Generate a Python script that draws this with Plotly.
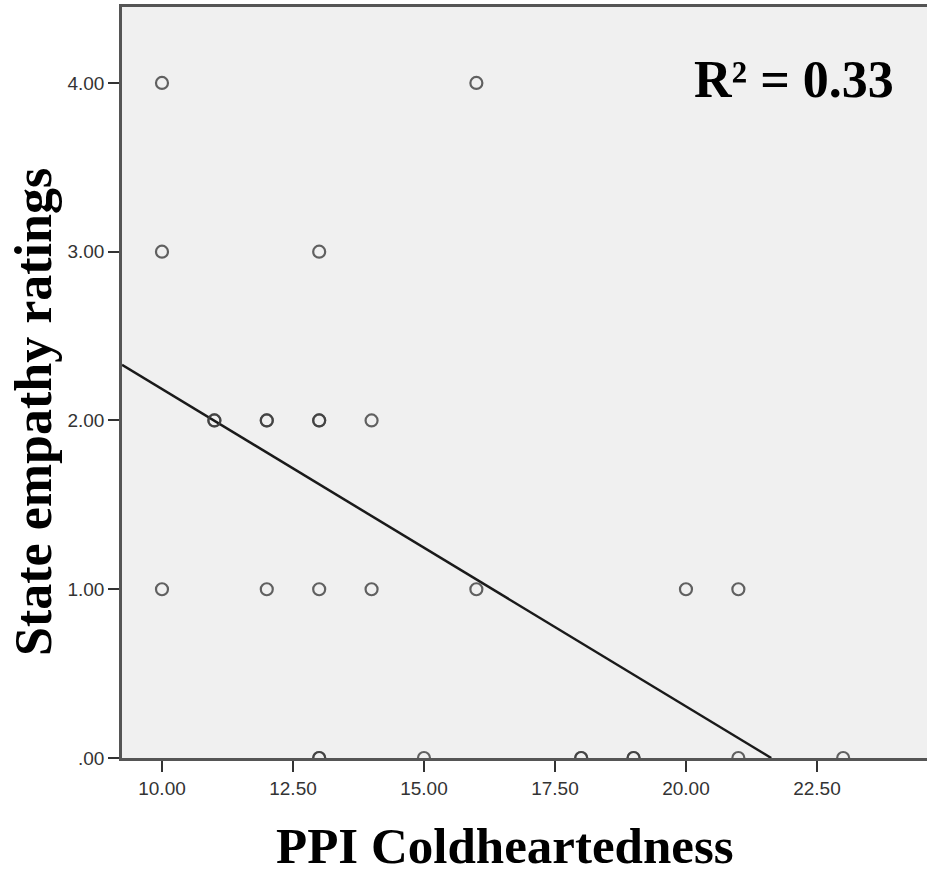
import plotly.graph_objects as go

# Data (duplicates drawn twice, they appear darker)
ppi_coldheartedness = [10, 16,
                       10, 13,
                       11, 11, 12, 12, 13, 13, 14,
                       10, 12, 13, 14, 16, 20, 21,
                       13, 13, 15, 18, 18, 19, 19, 21, 23]
state_empathy = [4, 4,
                 3, 3,
                 2, 2, 2, 2, 2, 2, 2,
                 1, 1, 1, 1, 1, 1, 1,
                 0, 0, 0, 0, 0, 0, 0, 0, 0]

fit_intercept = 4.066
fit_slope = -0.188
r_squared_label = "R² = 0.33"

x_tickvals = [10, 12.5, 15, 17.5, 20, 22.5]
x_ticktext = ["10.00", "12.50", "15.00", "17.50", "20.00", "22.50"]
y_tickvals = [0, 1, 2, 3, 4]
y_ticktext = [".00", "1.00", "2.00", "3.00", "4.00"]

x_range = [9.237, 24.6]
y_range = [0, 4.45]

line_x = [x_range[0], -fit_intercept / fit_slope]
line_y = [fit_intercept + fit_slope * v for v in line_x]

fig = go.Figure()
fig.add_trace(go.Scatter(
    x=line_x, y=line_y, mode="lines",
    line=dict(color="#1a1a1a", width=2.5), hoverinfo="skip", showlegend=False))
fig.add_trace(go.Scatter(
    x=ppi_coldheartedness, y=state_empathy, mode="markers",
    marker=dict(symbol="circle-open", size=12,
                color="rgba(60,60,60,0.8)",
                line=dict(width=2.2, color="rgba(60,60,60,0.8)")),
    showlegend=False))

serif = "Liberation Serif, Times New Roman, serif"
sans = "Liberation Sans, Arial, sans-serif"

fig.update_layout(
    width=927, height=874,
    margin=dict(l=122, r=0, t=7, b=116),
    paper_bgcolor="white", plot_bgcolor="#f0f0f0",
    xaxis=dict(range=x_range, tickvals=x_tickvals, ticktext=x_ticktext,
               showgrid=False, zeroline=False, showline=True, linecolor="#555555",
               linewidth=2.5, mirror=True, ticks="outside", ticklen=11, tickwidth=2,
               tickcolor="#333333", tickfont=dict(family=sans, size=19, color="#333333")),
    yaxis=dict(range=y_range, tickvals=y_tickvals, ticktext=y_ticktext,
               showgrid=False, zeroline=False, showline=True, linecolor="#555555",
               linewidth=2.5, ticks="outside", ticklen=11, tickwidth=2,
               tickcolor="#333333", tickfont=dict(family=sans, size=19, color="#333333")),
    annotations=[
        dict(text="<b>PPI Coldheartedness</b>", xref="paper", yref="paper",
             x=(505 - 122) / 805, y=(758 - 846) / 751, xanchor="center", yanchor="middle",
             showarrow=False, font=dict(family=serif, size=51, color="black")),
        dict(text="<b>State empathy ratings</b>", xref="paper", yref="paper",
             x=(33 - 122) / 805, y=(758 - 412) / 751, xanchor="center", yanchor="middle",
             textangle=-90, showarrow=False, font=dict(family=serif, size=52, color="black")),
        dict(text="<b>" + r_squared_label + "</b>", xref="paper", yref="paper",
             x=(794 - 122) / 805, y=(758 - 80) / 751, xanchor="center", yanchor="middle",
             showarrow=False, font=dict(family=serif, size=52, color="black")),
    ],
)

fig.write_html("out.html")
